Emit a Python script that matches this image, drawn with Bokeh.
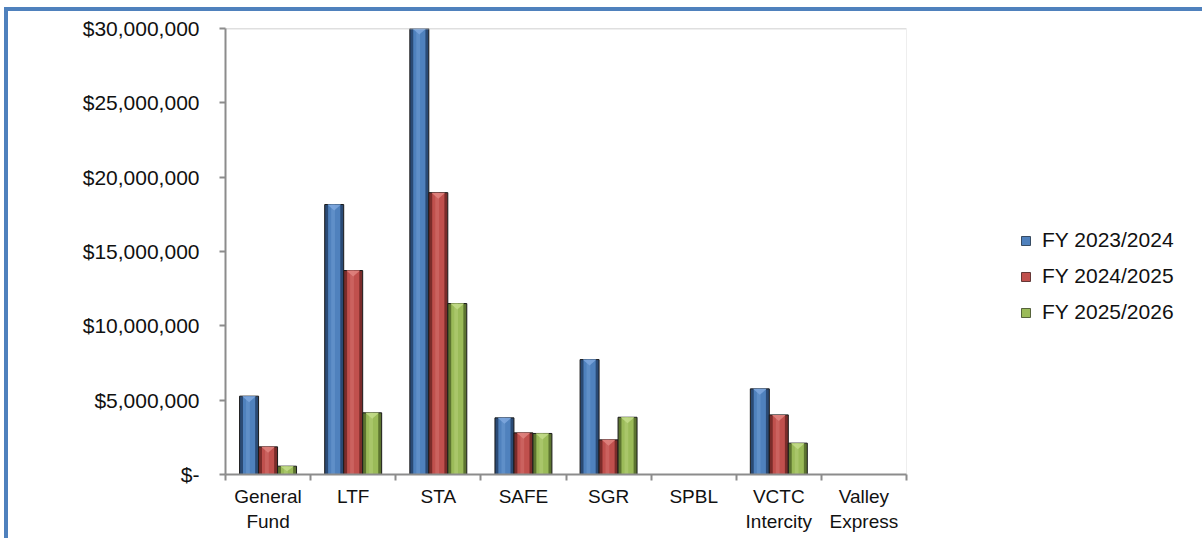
from bokeh.plotting import figure
from bokeh.models import (ColumnDataSource, FixedTicker, NumeralTickFormatter,
                          Legend, LegendItem)
from bokeh.transform import dodge
from bokeh.embed import file_html
from bokeh.resources import INLINE

categories = ["General Fund", "LTF", "STA", "SAFE", "SGR", "SPBL", "VCTC Intercity", "Valley Express"]
cat_labels = ["General\nFund", "LTF", "STA", "SAFE", "SGR", "SPBL", "VCTC\nIntercity", "Valley\nExpress"]
fy2324 = [5270000, 18160000, 30000000, 3810000, 7730000, 0, 5760000, 0]
fy2425 = [1860000, 13720000, 18960000, 2800000, 2330000, 0, 4010000, 0]
fy2526 = [560000, 4150000, 11500000, 2760000, 3850000, 0, 2110000, 0]
series_names = ["FY 2023/2024", "FY 2024/2025", "FY 2025/2026"]
y_ticks = [0, 5000000, 10000000, 15000000, 20000000, 25000000, 30000000]
y_max = 30000000

n = len(categories)
xpos = [i + 0.5 for i in range(n)]
src = ColumnDataSource(dict(x=xpos, a=fy2324, b=fy2425, c=fy2526))

FONT = "Liberation Sans"

plot_w = 681          # pixel width of the category area
frame_w = 975         # frame extends to the right to host the legend
frame_h = 446
p = figure(output_backend="svg", toolbar_location=None,
           frame_width=frame_w, frame_height=frame_h,
           min_border_left=217, min_border_top=17, min_border_bottom=64, min_border_right=2,
           x_range=(0, n * frame_w / plot_w), y_range=(0, y_max),
           styles={"border-top": "4px solid #4F81BD", "border-left": "4px solid #4F81BD",
                   "margin-left": "4px", "margin-top": "7px"})
p.outline_line_color = None
p.xgrid.visible = False
p.ygrid.visible = False
p.background_fill_color = "white"
p.border_fill_color = "white"

bw = 0.223
cols = [("a", fy2324, "#4F81BD", "#2A4A75", "#7FA8DE"),
        ("b", fy2425, "#C0504D", "#7A2C2A", "#E08580"),
        ("c", fy2526, "#9BBB59", "#5C7430", "#C3DC8A")]
offs = [-bw, 0.0, bw]
px_y = y_max / frame_h   # data units per pixel (for the bevel triangle height)
legend_items = []
for (key, vals, main, dark, light), off, name in zip(cols, offs, series_names):
    rd = p.vbar(x=dodge("x", off, range=p.x_range), top=key, width=bw, bottom=0, source=src,
                fill_color=dark, line_color="#1a1a1a", line_width=1)
    rm = p.vbar(x=dodge("x", off, range=p.x_range), top=key, width=bw * 0.64, bottom=0, source=src,
                fill_color=main, line_color=None)
    p.vbar(x=dodge("x", off - bw * 0.06, range=p.x_range), top=key, width=bw * 0.2, bottom=0, source=src,
           fill_color=light, line_color=None, fill_alpha=0.35)
    # bevel triangle at the top of each bar
    tx, ty = [], []
    for xc, v in zip(xpos, vals):
        if v <= 0:
            continue
        h = min(6 * px_y, v * 0.6)
        cx = xc + off
        tx.append([cx - bw * 0.36, cx + bw * 0.36, cx])
        ty.append([v, v, v - h])
    p.patches(tx, ty, fill_color=light, line_color=None, fill_alpha=0.85)
    legend_items.append(LegendItem(label=name, renderers=[rd, rm]))

# top frame line and faint right edge of the plot area
p.segment(x0=[0], x1=[n], y0=[y_max], y1=[y_max], line_color="#c0c0c0", line_width=1.5)
p.segment(x0=[n], x1=[n], y0=[0], y1=[y_max], line_color="#eeeeee", line_width=1)

ya = p.yaxis[0]
ya.ticker = FixedTicker(ticks=y_ticks, minor_ticks=[])
ya.formatter = NumeralTickFormatter(format="$0,0")
ya.major_label_overrides = {0: "$-"}
ya.axis_line_color = "#8c8c8c"
ya.axis_line_width = 2
ya.major_tick_line_color = "#8c8c8c"
ya.major_tick_line_width = 2
ya.major_tick_out = 6
ya.major_tick_in = 0
ya.minor_tick_line_color = None
ya.major_label_text_font = FONT
ya.major_label_text_font_size = "21px"
ya.major_label_text_color = "#111111"
ya.major_label_standoff = 20

xa = p.xaxis[0]
xa.bounds = (0, n)
xa.ticker = FixedTicker(ticks=xpos, minor_ticks=list(range(n + 1)))
xa.major_label_overrides = {x: lab for x, lab in zip(xpos, cat_labels)}
xa.axis_line_color = "#8c8c8c"
xa.axis_line_width = 2
xa.major_tick_line_color = None
xa.minor_tick_line_color = "#8c8c8c"
xa.minor_tick_line_width = 2
xa.minor_tick_out = 6
xa.minor_tick_in = 0
xa.major_label_text_font = FONT
xa.major_label_text_font_size = "19px"
xa.major_label_text_color = "#111111"
xa.major_label_standoff = 5

legend = Legend(items=legend_items, location=(795, 150),
                label_text_font=FONT, label_text_font_size="21px", label_text_color="#111111",
                glyph_width=11, glyph_height=11, spacing=12, label_standoff=11,
                margin=0, padding=0,
                border_line_color=None, background_fill_alpha=0)
p.add_layout(legend, "center")

open("out.html", "w").write(file_html(p, INLINE))
